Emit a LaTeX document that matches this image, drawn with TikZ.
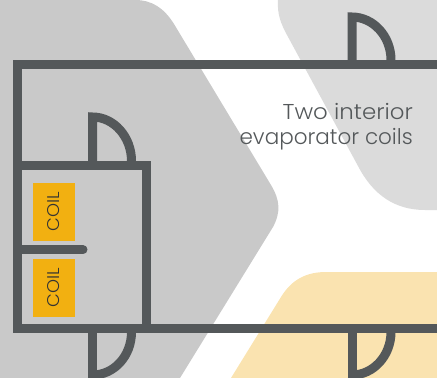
\documentclass[tikz,border=0pt]{standalone}
\usepackage{fontspec}
\setmainfont{Poppins}[UprightFont=* Light]
\definecolor{wallc}{HTML}{54585A}
\definecolor{coilc}{HTML}{F2B011}
\definecolor{zonea}{HTML}{C9C9C9}
\definecolor{zoneb}{HTML}{DBDBDB}
\definecolor{zonec}{HTML}{FAE3B0}
\tikzset{
  x=1pt,y=-1pt,
  wall/.style={draw=wallc,line width=9pt,line join=miter},
  coilbox/.style={fill=coilc,draw=none,minimum width=42pt,minimum height=57.7pt,inner sep=0pt,
    text=black!80,font=\fontsize{17}{17}\selectfont},
  caption/.style={text=wallc,font=\fontsize{21.5}{25}\selectfont,align=right,anchor=north east,inner sep=0pt}
}
\begin{document}
\begin{tikzpicture}
\useasboundingbox (0,0) rectangle (437,378);
% background zones
\fill[zoneb] (278,0) .. controls (277,14) and (281,24) .. (287,35) -- (358,166)
  .. controls (373,195) and (395,210) .. (425,210) -- (437,210) -- (437,0) -- cycle;
\fill[zonec] (231,378) -- (281,297) .. controls (292,279) and (307,272) .. (326,272) -- (437,272) -- (437,378) -- cycle;
\fill[zonea] (0,0) -- (135,0) .. controls (152,0) and (164,8) .. (174,24) -- (271,185)
  .. controls (280,200) and (281,212) .. (273,227) -- (180,378) -- (0,378) -- cycle;
% walls
\draw[wall] (437,64.5) -- (17.6,64.5) -- (17.6,328) -- (437,328);
\draw[wall] (17.6,165) -- (146,165) -- (146,328);
\draw[wall,line cap=round] (22,249.7) -- (83,249.7);
% doors
\draw[wall] (92.5,161) -- (92.5,117) .. controls (114,117) and (131.5,137) .. (131.5,161);
\draw[wall] (352,60) -- (352,17) .. controls (373,17) and (391,36) .. (391,60);
\draw[wall] (92.5,332) -- (92.5,378);
\draw[wall] (92.5,375) .. controls (114,375) and (131.5,356) .. (131.5,332);
\draw[wall] (352,332) -- (352,378);
\draw[wall] (352,375) .. controls (373,375) and (391,356) .. (391,332);
% coils
\node[coilbox] (coilA) at (54,212) {\rotatebox{90}{\scalebox{1.05}[1]{COIL}}};
\node[coilbox] (coilB) at (54,288) {\rotatebox{90}{\scalebox{1.05}[1]{COIL}}};
\node[caption] (cap) at (413,103) {\scalebox{1.065}[1]{Two interior}\\evaporator coils};
\end{tikzpicture}
\end{document}
